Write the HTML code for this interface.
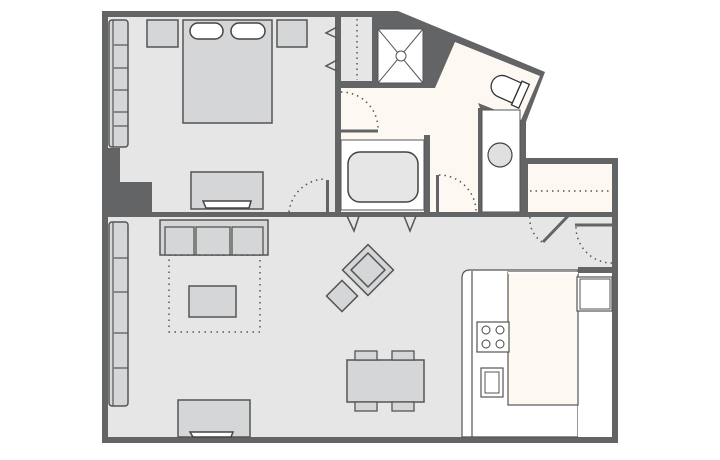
<!DOCTYPE html>
<html><head><meta charset="utf-8"><style>html,body{margin:0;padding:0;background:#fff}svg{display:block}</style></head>
<body>
<svg width="720" height="460" viewBox="0 0 720 460" xmlns="http://www.w3.org/2000/svg">
<g stroke-linejoin="miter">
<polygon points="102,11 398,11 545,72 526,122 526,158 618,158 618,443 102,443" fill="#636466"/>
<rect x="108" y="17" width="227" height="195" fill="#e6e6e6"/>
<rect x="102" y="148" width="18" height="67" fill="#636466"/>
<rect x="102" y="182" width="50" height="33" fill="#636466"/>
<rect x="341" y="17" width="31" height="64" fill="#e6e6e6"/>
<line x1="357" y1="19" x2="357" y2="80" stroke="#555" stroke-width="1.5" stroke-dasharray="1.5,4"/>
<rect x="378" y="29" width="45" height="54" fill="#fff" stroke="#555" stroke-width="1"/>
<line x1="378" y1="29" x2="423" y2="83" stroke="#555"/><line x1="423" y1="29" x2="378" y2="83" stroke="#555"/>
<circle cx="401" cy="56" r="5" fill="#fff" stroke="#555"/>
<polygon points="341,88 435,88 455,42 540,76 521,120 480,105 480,212 341,212" fill="#fdf8f1"/>
<polygon points="478,103 521,120 526,122 480,108" fill="#636466"/>
<rect x="478" y="108" width="4" height="105" fill="#636466"/>
<rect x="520" y="120" width="6" height="95" fill="#636466"/>
<rect x="482" y="110" width="38" height="102" fill="#fff" stroke="#555" stroke-width="1"/>
<circle cx="500" cy="155" r="12" fill="#e0e0e0" stroke="#444" stroke-width="1.2"/>
<g transform="translate(508,88) rotate(24)" fill="#fff" stroke="#333" stroke-width="1.3">
<rect x="10" y="-12" width="8" height="26"/>
<path d="M10,-10 L-6,-10 A11,11 0 0 0 -6,12 L10,12 Z"/>
</g>
<rect x="335" y="11" width="6" height="12" fill="#636466"/>
<rect x="335" y="72" width="6" height="18" fill="#636466"/>
<rect x="341" y="81" width="37" height="7" fill="#636466"/>
<line x1="341" y1="131" x2="378" y2="131" stroke="#636466" stroke-width="3"/>
<path d="M341,92 A37,37 0 0 1 378,128" fill="none" stroke="#555" stroke-width="1.5" stroke-dasharray="1.5,4"/>
<rect x="335" y="135" width="6" height="80" fill="#636466"/>
<rect x="424" y="135" width="6" height="80" fill="#636466"/>
<rect x="341" y="140" width="83" height="70" fill="#fff" stroke="#555"/>
<rect x="348" y="152" width="70" height="50" rx="12" fill="#e6e6e6" stroke="#444" stroke-width="1.5"/>
<rect x="436" y="175" width="3" height="38" fill="#636466"/>
<path d="M439,175 A37,37 0 0 1 476,212" fill="none" stroke="#555" stroke-width="1.5" stroke-dasharray="1.5,4"/>
<rect x="528" y="164" width="84" height="48" fill="#fdf8f1"/>
<line x1="530" y1="191" x2="610" y2="191" stroke="#555" stroke-width="1.5" stroke-dasharray="1.5,4"/>
<rect x="108" y="217" width="504" height="220" fill="#e6e6e6"/>
<rect x="108" y="212" width="179" height="5" fill="#636466"/>
<rect x="330" y="212" width="100" height="5" fill="#636466"/>
<rect x="478" y="212" width="50" height="5" fill="#636466"/>
<rect x="573" y="212" width="45" height="5" fill="#636466"/>
<rect x="612" y="217" width="6" height="4" fill="#636466"/>
<rect x="612" y="264" width="6" height="8" fill="#636466"/>
<rect x="326" y="180" width="3" height="33" fill="#636466"/>
<path d="M289,212 A37,37 0 0 1 326,179" fill="none" stroke="#555" stroke-width="1.5" stroke-dasharray="1.5,4"/>
<line x1="575" y1="225" x2="612" y2="225" stroke="#636466" stroke-width="3"/>
<path d="M576,227 A36,36 0 0 0 612,263" fill="none" stroke="#555" stroke-width="1.5" stroke-dasharray="1.5,4"/>
<line x1="543" y1="242" x2="568" y2="216" stroke="#636466" stroke-width="3"/>
<path d="M530,217 A27,27 0 0 0 542,242" fill="none" stroke="#555" stroke-width="1.5" stroke-dasharray="1.5,4"/>
<path d="M462,437 L462,278 Q462,270 470,270 L578,270 L578,437 Z" fill="#fff" stroke="#555" stroke-width="1.2"/>
<rect x="578" y="270" width="34" height="167" fill="#fff"/>
<rect x="578" y="267" width="40" height="6" fill="#636466"/>
<line x1="472" y1="271" x2="472" y2="437" stroke="#555" stroke-width="1.2"/>
<rect x="508" y="272" width="70" height="133" fill="#fdf8f1" stroke="#555" stroke-width="1.2"/>
<rect x="508" y="272" width="70" height="2" fill="#fff"/>
<rect x="577" y="277" width="35" height="34" fill="#fff" stroke="#555" stroke-width="1.2"/>
<rect x="580" y="279" width="30" height="30" fill="#fff" stroke="#555" stroke-width="1"/>
<rect x="477" y="322" width="32" height="30" fill="#fff" stroke="#555" stroke-width="1.2"/>
<g fill="#fff" stroke="#444" stroke-width="1"><circle cx="486" cy="330" r="4"/><circle cx="500" cy="330" r="4"/><circle cx="486" cy="344" r="4"/><circle cx="500" cy="344" r="4"/></g>
<rect x="481" y="368" width="22" height="29" fill="#fff" stroke="#555" stroke-width="1.2"/>
<rect x="485" y="372" width="14" height="21" fill="#fff" stroke="#555" stroke-width="1"/>
<g fill="#d5d6d8" stroke="#555" stroke-width="1.5">
<rect x="147" y="20" width="31" height="27"/>
<rect x="277" y="20" width="30" height="27"/>
<rect x="183" y="20" width="89" height="103"/>
<rect x="191" y="172" width="72" height="37"/>
<rect x="109" y="20" width="19" height="127" rx="3"/>
<rect x="160" y="220" width="108" height="35"/>
<rect x="189" y="286" width="47" height="31"/>
<rect x="178" y="400" width="72" height="37"/>
<rect x="347" y="360" width="77" height="42"/>
<rect x="109" y="222" width="19" height="184" rx="3"/>
</g>
<g fill="#d5d6d8" stroke="#555" stroke-width="1.3">
<rect x="355" y="351" width="22" height="9"/><rect x="392" y="351" width="22" height="9"/>
<rect x="355" y="402" width="22" height="9"/><rect x="392" y="402" width="22" height="9"/>
<rect x="165" y="227" width="29" height="28"/><rect x="196" y="227" width="34" height="28"/><rect x="232" y="227" width="31" height="28"/>
</g>
<g fill="none" stroke="#555" stroke-width="1.2">
<line x1="113" y1="20" x2="113" y2="147"/><line x1="113" y1="222" x2="113" y2="406"/>
<line x1="114" y1="45" x2="128" y2="45"/><line x1="114" y1="68" x2="128" y2="68"/><line x1="114" y1="90" x2="128" y2="90"/><line x1="114" y1="112" x2="128" y2="112"/><line x1="114" y1="126" x2="128" y2="126"/>
<line x1="114" y1="258" x2="128" y2="258"/><line x1="114" y1="292" x2="128" y2="292"/><line x1="114" y1="333" x2="128" y2="333"/><line x1="114" y1="368" x2="128" y2="368"/>
</g>
<g fill="#fff" stroke="#444" stroke-width="1.5">
<rect x="190" y="23" width="33" height="16" rx="8"/><rect x="231" y="23" width="34" height="16" rx="8"/>
<path d="M203,201 L251,201 L249,208 L206,208 Z"/>
<path d="M190,432 L233,432 L231,437 L193,437 Z"/>
</g>
<rect x="169" y="255" width="91" height="77" fill="none" stroke="#555" stroke-width="1.5" stroke-dasharray="1.5,4.5"/>
<g transform="translate(368,270) rotate(45)" fill="#d5d6d8" stroke="#555" stroke-width="1.5">
<rect x="-18" y="-18" width="36" height="36"/><rect x="-12" y="-12" width="24" height="24"/>
</g>
<g transform="translate(342,296) rotate(45)" fill="#d5d6d8" stroke="#555" stroke-width="1.5"><rect x="-11" y="-11" width="22" height="22"/></g>
<g fill="none" stroke="#555" stroke-width="1.5">
<path d="M337,27 L326,33 L337,38"/><path d="M337,60 L326,66 L337,71"/>
<path d="M347,216 L354,231 L359,216"/><path d="M404,216 L410,231 L416,216"/>
</g>
</g>
</svg>
</body></html>
